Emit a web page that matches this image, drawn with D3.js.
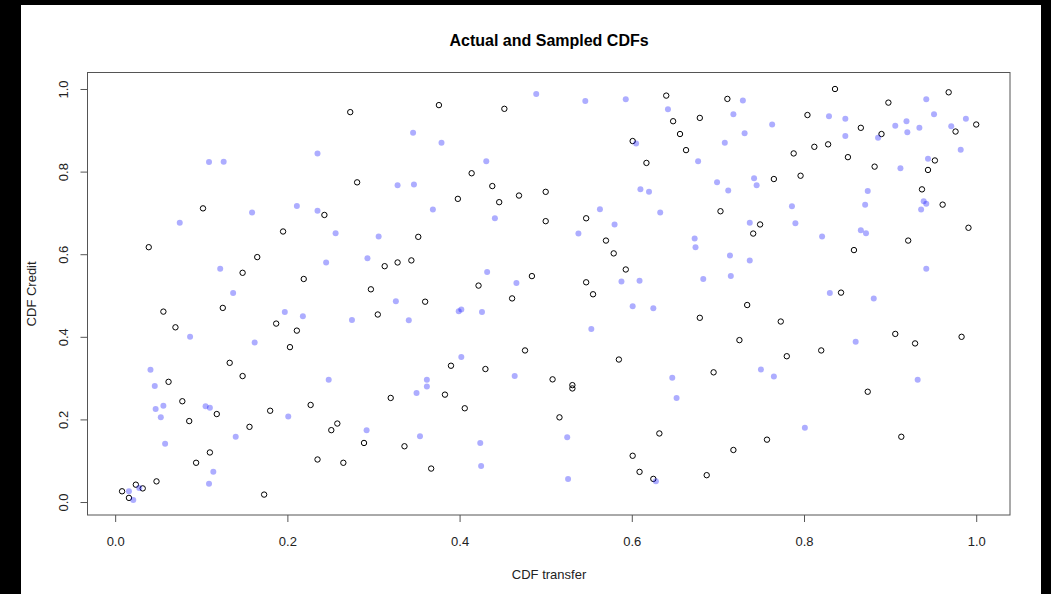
<!DOCTYPE html>
<html>
<head>
<meta charset="utf-8">
<script src="https://cdn.jsdelivr.net/npm/d3@7"></script>
<style>
  body { margin: 0; background: #000; }
  svg { display: block; }
</style>
</head>
<body>
<svg id="chart" width="1051" height="594"></svg>
<script>
// Actual CDF pairs (open black circles)
const actualX = [0.102,0.039,0.165,0.148,0.056,0.125,0.187,0.070,0.133,0.148,0.062,0.078,0.118,0.180,0.086,0.156,0.110,0.094,0.048,0.024,0.032,0.008,0.016,0.173,
  0.376,0.273,0.281,0.398,0.243,0.195,0.352,0.313,0.328,0.344,0.219,0.297,0.360,0.211,0.305,0.203,0.390,0.383,0.320,0.227,0.258,0.251,0.289,0.336,0.235,0.265,0.367,
  0.452,0.601,0.414,0.438,0.446,0.469,0.500,0.500,0.547,0.570,0.579,0.593,0.422,0.484,0.547,0.555,0.461,0.476,0.430,0.585,0.508,0.531,0.531,0.406,0.516,0.601,0.609,
  0.640,0.711,0.648,0.679,0.804,0.656,0.663,0.812,0.788,0.617,0.765,0.796,0.703,0.749,0.741,0.679,0.734,0.773,0.725,0.820,0.780,0.695,0.632,0.757,0.718,0.625,0.687,
  0.836,0.968,0.898,1.000,0.866,0.976,0.890,0.828,0.851,0.952,0.882,0.944,0.937,0.961,0.991,0.921,0.858,0.843,0.906,0.929,0.983,0.874,0.913];
const actualY = [0.711,0.617,0.593,0.555,0.461,0.470,0.432,0.423,0.337,0.305,0.291,0.244,0.213,0.221,0.196,0.182,0.120,0.095,0.050,0.042,0.033,0.026,0.010,0.018,
  0.961,0.944,0.774,0.734,0.695,0.655,0.642,0.571,0.580,0.585,0.540,0.515,0.485,0.415,0.454,0.375,0.330,0.260,0.252,0.235,0.190,0.174,0.143,0.135,0.103,0.095,0.081,
  0.952,0.874,0.796,0.765,0.726,0.742,0.751,0.680,0.687,0.633,0.602,0.563,0.524,0.547,0.532,0.503,0.493,0.367,0.322,0.345,0.297,0.283,0.275,0.227,0.205,0.112,0.073,
  0.984,0.976,0.922,0.930,0.937,0.891,0.852,0.860,0.844,0.821,0.782,0.790,0.704,0.672,0.650,0.446,0.477,0.437,0.392,0.367,0.353,0.314,0.166,0.151,0.126,0.056,0.065,
  1.000,0.992,0.967,0.914,0.906,0.897,0.891,0.866,0.835,0.827,0.812,0.804,0.757,0.720,0.664,0.633,0.610,0.507,0.407,0.384,0.400,0.267,0.158];

// Sampled CDF pairs (light blue dots)
const sampledX = [0.109,0.126,0.159,0.075,0.122,0.137,0.087,0.162,0.041,0.046,0.056,0.047,0.105,0.110,0.053,0.140,0.058,0.114,0.109,0.028,0.016,0.021,
  0.346,0.379,0.235,0.328,0.347,0.211,0.235,0.369,0.256,0.306,0.245,0.293,0.326,0.197,0.218,0.275,0.341,0.248,0.362,0.362,0.350,0.201,0.292,0.354,
  0.489,0.546,0.593,0.605,0.431,0.610,0.441,0.563,0.580,0.538,0.432,0.466,0.588,0.609,0.399,0.402,0.426,0.601,0.553,0.402,0.464,0.525,0.424,0.425,0.526,
  0.729,0.642,0.718,0.763,0.731,0.708,0.677,0.699,0.620,0.712,0.742,0.745,0.633,0.786,0.737,0.790,0.821,0.673,0.674,0.714,0.737,0.683,0.715,0.625,0.647,0.750,0.765,0.652,0.801,0.628,
  0.942,0.829,0.848,0.951,0.988,0.906,0.919,0.920,0.934,0.971,0.848,0.886,0.982,0.944,0.912,0.874,0.939,0.942,0.936,0.871,0.866,0.872,0.942,0.830,0.881,0.860,0.932];
const sampledY = [0.823,0.824,0.701,0.676,0.565,0.506,0.400,0.386,0.320,0.281,0.233,0.225,0.232,0.228,0.205,0.158,0.141,0.073,0.044,0.034,0.026,0.005,
  0.894,0.870,0.844,0.767,0.769,0.717,0.705,0.708,0.651,0.643,0.580,0.590,0.486,0.460,0.450,0.441,0.440,0.296,0.296,0.280,0.264,0.207,0.174,0.159,
  0.988,0.971,0.975,0.868,0.825,0.757,0.687,0.709,0.672,0.650,0.557,0.530,0.534,0.536,0.462,0.466,0.460,0.474,0.419,0.351,0.305,0.157,0.143,0.087,0.056,
  0.972,0.951,0.939,0.914,0.893,0.870,0.825,0.774,0.751,0.754,0.784,0.767,0.701,0.716,0.676,0.675,0.643,0.638,0.617,0.597,0.585,0.540,0.547,0.469,0.301,0.321,0.304,0.252,0.180,0.050,
  0.975,0.934,0.928,0.939,0.928,0.911,0.922,0.895,0.906,0.910,0.886,0.882,0.853,0.831,0.808,0.753,0.728,0.722,0.708,0.720,0.658,0.651,0.565,0.506,0.493,0.388,0.296];

const ticks = [0, 0.2, 0.4, 0.6, 0.8, 1.0];

const svg = d3.select("#chart");
const font = "'Liberation Sans', Arial, sans-serif";

// white canvas inside the black border
svg.append("rect")
    .attr("x", 21).attr("y", 5)
    .attr("width", 1020).attr("height", 589)
    .attr("fill", "#fff");

const x = d3.scaleLinear().domain([-0.0319, 1.0397]).range([87.7, 1010.4]);
const y = d3.scaleLinear().domain([-0.0319, 1.0397]).range([515.2, 72.6]);

// title
svg.append("text")
    .attr("x", (87.7 + 1010.4) / 2).attr("y", 46)
    .attr("text-anchor", "middle")
    .attr("font-family", font).attr("font-size", "16px").attr("font-weight", "bold")
    .text("Actual and Sampled CDFs");

// actual points
svg.selectAll("circle.actual")
    .data(d3.range(actualX.length))
    .enter().append("circle")
    .attr("class", "actual")
    .attr("cx", i => x(actualX[i]))
    .attr("cy", i => y(actualY[i]))
    .attr("r", 2.7)
    .attr("fill", "none")
    .attr("stroke", "#000")
    .attr("stroke-width", 1);

// sampled points
svg.selectAll("circle.sampled")
    .data(d3.range(sampledX.length))
    .enter().append("circle")
    .attr("class", "sampled")
    .attr("cx", i => x(sampledX[i]))
    .attr("cy", i => y(sampledY[i]))
    .attr("r", 3)
    .attr("fill", "#0000ff")
    .attr("fill-opacity", 0.32);

// box
svg.append("rect")
    .attr("x", 87.5).attr("y", 72.5)
    .attr("width", 922.5).attr("height", 442.5)
    .attr("fill", "none")
    .attr("stroke", "#555")
    .attr("stroke-width", 1);

// x axis
const gx = svg.append("g")
    .attr("transform", "translate(0,515)")
    .call(d3.axisBottom(x).tickValues(ticks).tickSize(7).tickFormat(d3.format(".1f")));
gx.select(".domain").remove();
gx.selectAll("line").attr("stroke", "#555");
gx.selectAll("text")
    .attr("font-family", font).attr("font-size", "13px").attr("fill", "#222")
    .attr("y", 22);

// y axis
const gy = svg.append("g")
    .attr("transform", "translate(87.5,0)")
    .call(d3.axisLeft(y).tickValues(ticks).tickSize(7).tickFormat(d3.format(".1f")));
gy.select(".domain").remove();
gy.selectAll("line").attr("stroke", "#555");
gy.selectAll("text")
    .attr("font-family", font).attr("font-size", "13px").attr("fill", "#222")
    .attr("transform", "rotate(-90)")
    .attr("x", 0).attr("y", -24)
    .attr("dy", "0.35em")
    .attr("text-anchor", "middle");

// axis titles
svg.append("text")
    .attr("x", (87.7 + 1010.4) / 2).attr("y", 579)
    .attr("text-anchor", "middle")
    .attr("font-family", font).attr("font-size", "13px").attr("fill", "#222")
    .text("CDF transfer");

svg.append("text")
    .attr("transform", "translate(36," + (72.6 + 515.2) / 2 + ") rotate(-90)")
    .attr("text-anchor", "middle")
    .attr("font-family", font).attr("font-size", "13px").attr("fill", "#222")
    .text("CDF Credit");
</script>
</body>
</html>
